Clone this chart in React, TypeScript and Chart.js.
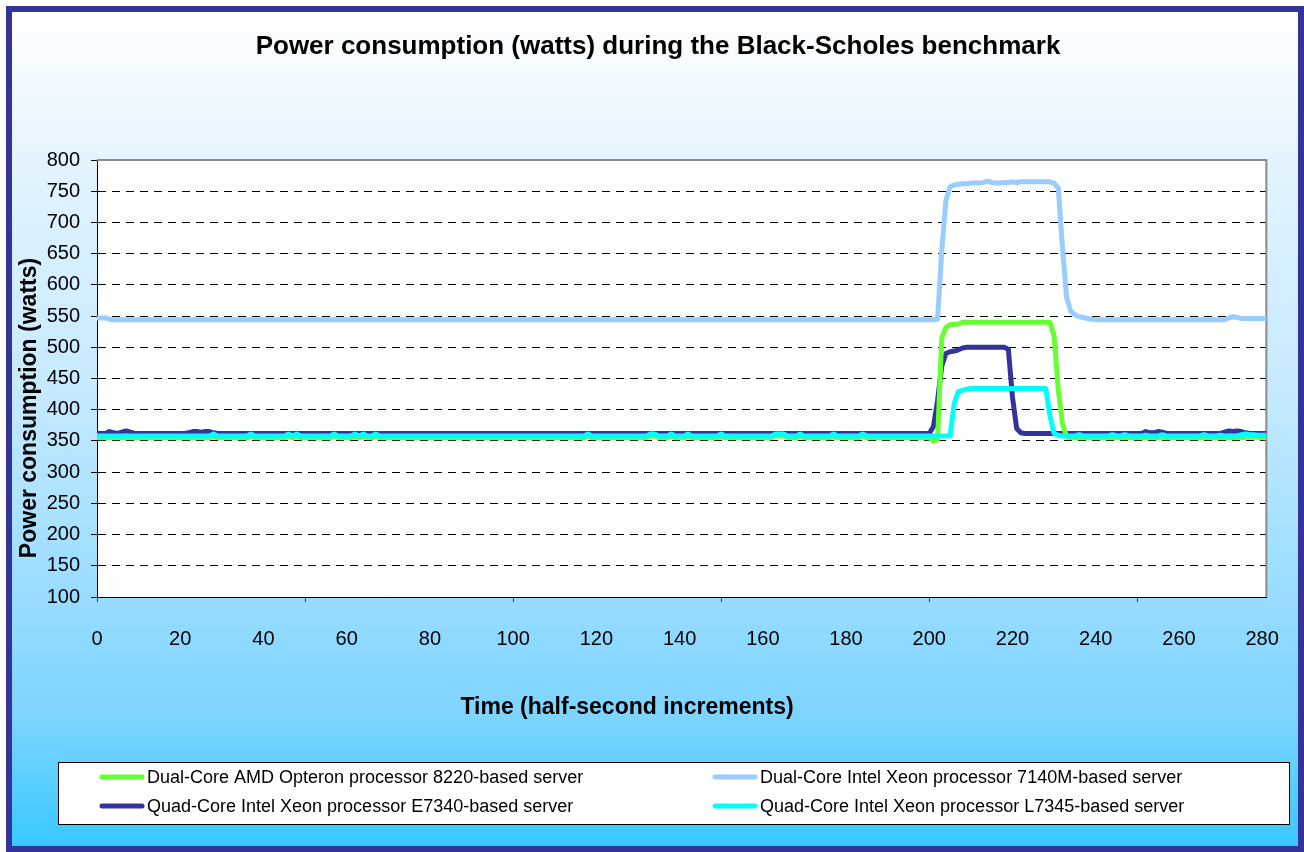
import React, { useEffect, useRef } from "react";
import { Chart, registerables } from "chart.js";

Chart.register(...registerables);

const TITLE = "Power consumption (watts) during the Black-Scholes benchmark";
const X_TITLE = "Time (half-second increments)";
const Y_TITLE = "Power consumption (watts)";

const SERIES_NAMES = [
  "Dual-Core AMD Opteron processor 8220-based server",
  "Dual-Core Intel Xeon processor 7140M-based server",
  "Quad-Core Intel Xeon processor E7340-based server",
  "Quad-Core Intel Xeon processor L7345-based server",
];

const X_LABELS = [0, 20, 40, 60, 80, 100, 120, 140, 160, 180, 200, 220, 240, 260, 280];
const X_TICK_MARKS = [0, 50, 100, 150, 200, 250];
const Y_TICKS = [100, 150, 200, 250, 300, 350, 400, 450, 500, 550, 600, 650, 700, 750, 800];
const X_MIN = 0;
const X_MAX = 281;

// Dual-Core AMD Opteron 8220 (green)
const AMD_8220 = [
  355,355,355,355,355,355,355,355,355,355,355,355,355,355,355,355,355,355,355,355,
  355,355,355,355,355,355,355,355,357,355,355,355,355,355,355,355,355,357,355,355,
  355,355,355,355,355,355,357,355,357,355,355,355,355,355,355,355,355,357,355,355,
  355,355,357,355,357,355,355,357,355,355,355,355,355,355,355,355,355,355,355,355,
  355,355,355,355,355,355,355,355,355,355,355,355,355,355,355,355,355,355,355,355,
  355,355,355,355,355,355,355,355,355,355,355,355,355,355,355,355,355,355,357,355,
  355,355,355,355,355,355,355,355,355,355,355,355,355,358,358,355,355,355,357,355,
  355,355,357,355,355,355,355,355,355,355,357,355,355,355,355,355,355,355,355,355,
  355,355,355,358,358,358,355,355,355,357,355,355,355,355,355,355,355,357,355,355,
  355,355,355,355,357,355,355,355,355,355,355,355,355,355,355,355,355,355,355,355,
  355,350,352,515,532,536,537,537,540,540,540,540,540,540,540,540,540,540,540,540,
  540,540,540,540,540,540,540,540,540,540,518,432,378,357,355,355,355,355,355,355,
  355,355,355,355,355,355,355,355,355,355,355,355,355,355,355,355,355,355,355,355,
  355,355,355,355,355,355,355,355,355,355,355,355,355,355,355,355,356,356,356,356,
  355,355,
];

// Dual-Core Intel Xeon 7140M (light blue)
const XEON_7140M = [
  547,547,547,545,544,544,544,544,544,544,544,544,544,544,544,544,544,544,544,544,
  544,544,544,544,544,544,544,544,544,544,544,544,544,544,544,544,544,544,544,544,
  544,544,544,544,544,544,544,544,544,544,544,544,544,544,544,544,544,544,544,544,
  544,544,544,544,544,544,544,544,544,544,544,544,544,544,544,544,544,544,544,544,
  544,544,544,544,544,544,544,544,544,544,544,544,544,544,544,544,544,544,544,544,
  544,544,544,544,544,544,544,544,544,544,544,544,544,544,544,544,544,544,544,544,
  544,544,544,544,544,544,544,544,544,544,544,544,544,544,544,544,544,544,544,544,
  544,544,544,544,544,544,544,544,544,544,544,544,544,544,544,544,544,544,544,544,
  544,544,544,544,544,544,544,544,544,544,544,544,544,544,544,544,544,544,544,544,
  544,544,544,544,544,544,544,544,544,544,544,544,544,544,544,544,544,544,544,544,
  544,544,545,655,735,757,760,761,762,762,763,763,763,764,766,764,763,763,764,764,
  765,764,765,765,765,765,765,765,765,765,763,755,660,580,558,552,549,548,546,545,
  544,544,544,544,544,544,544,544,544,544,544,544,544,544,544,544,544,544,544,544,
  544,544,544,544,544,544,544,544,544,544,544,544,547,549,548,546,546,546,546,546,
  546,546,
];

// Quad-Core Intel Xeon E7340 (navy)
const XEON_E7340 = [
  362,362,362,365,363,362,364,366,364,362,362,362,362,362,362,362,362,362,362,362,
  362,362,363,365,365,364,365,365,363,362,362,362,362,362,362,362,362,362,362,362,
  362,362,362,362,362,362,362,362,362,362,362,362,362,362,362,362,362,362,362,362,
  362,362,362,362,362,362,362,362,362,362,362,362,362,362,362,362,362,362,362,362,
  362,362,362,362,362,362,362,362,362,362,362,362,362,362,362,362,362,362,362,362,
  362,362,362,362,362,362,362,362,362,362,362,362,362,362,362,362,362,362,362,362,
  362,362,362,362,362,362,362,362,362,362,362,362,362,362,362,362,362,362,362,362,
  362,362,362,362,362,362,362,362,362,362,362,362,362,362,362,362,362,362,362,362,
  362,362,362,362,362,362,362,362,362,362,362,362,362,362,362,362,362,362,362,362,
  362,362,362,362,362,362,362,362,362,362,362,362,362,362,362,362,362,362,362,362,
  362,373,415,470,490,493,494,496,499,500,500,500,500,500,500,500,500,500,500,497,
  420,370,363,362,362,362,362,362,362,362,362,362,362,362,362,362,362,362,362,362,
  362,362,362,362,362,362,362,362,362,362,362,362,365,363,363,365,364,362,362,362,
  362,362,362,362,362,362,362,362,362,362,362,364,366,365,366,365,363,362,362,362,
  362,362,
];

// Quad-Core Intel Xeon L7345 (cyan)
const XEON_L7345 = [
  358,358,358,358,358,358,358,358,358,358,358,358,358,358,358,358,358,358,358,358,
  358,358,358,358,358,358,358,358,361,358,358,358,358,358,358,358,358,361,358,358,
  358,358,358,358,358,358,361,358,361,358,358,358,358,358,358,358,358,361,358,358,
  358,358,361,358,361,358,358,361,358,358,358,358,358,358,358,358,358,358,358,358,
  358,358,358,358,358,358,358,358,358,358,358,358,358,358,358,358,358,358,358,358,
  358,358,358,358,358,358,358,358,358,358,358,358,358,358,358,358,358,358,361,358,
  358,358,358,358,358,358,358,358,358,358,358,358,358,361,361,358,358,358,361,358,
  358,358,361,358,358,358,358,358,358,358,361,358,358,358,358,358,358,358,358,358,
  358,358,358,361,361,361,358,358,358,361,358,358,358,358,358,358,358,361,358,358,
  358,358,358,358,361,358,358,358,358,358,358,358,358,358,358,358,358,358,358,358,
  358,358,358,358,358,358,410,429,431,433,434,434,434,434,434,434,434,434,434,434,
  434,434,434,434,434,434,434,434,434,390,362,359,358,358,358,358,360,358,358,358,
  358,358,358,358,360,358,358,360,358,358,358,358,359,358,358,358,360,358,358,358,
  358,358,358,358,358,358,360,358,358,358,359,358,358,358,358,360,361,360,360,359,
  359,359,
];

const SERIES_VALUES = [AMD_8220, XEON_7140M, XEON_E7340, XEON_L7345];
const SERIES_COLORS = ["#66FF33", "#99CCFF", "#333399", "#00FFFF"];
const SERIES_ORDER = [1, 3, 2, 0]; // lower order is drawn on top

const W = 1304;
const H = 852;
const FONT = '"Liberation Sans", Arial, Helvetica, sans-serif';

const framePlugin = {
  id: "frame",
  beforeDraw(chart: any) {
    const { ctx, chartArea: a } = chart;
    ctx.save();
    ctx.fillStyle = "#ffffff";
    ctx.fillRect(0, 0, W, H);
    const g = ctx.createLinearGradient(0, 12, 0, 846);
    g.addColorStop(0, "#ffffff");
    g.addColorStop(0.177, "#e4f4ff");
    g.addColorStop(0.465, "#c4e9ff");
    g.addColorStop(0.705, "#98dcff");
    g.addColorStop(0.85, "#7cd4ff");
    g.addColorStop(1, "#38c8ff");
    ctx.fillStyle = g;
    ctx.fillRect(9, 9, W - 12, H - 12);
    ctx.lineWidth = 6;
    ctx.strokeStyle = "#333399";
    ctx.strokeRect(9, 9, W - 12, H - 12);
    ctx.fillStyle = "#ffffff";
    ctx.fillRect(a.left, a.top, a.right - a.left, a.bottom - a.top);
    ctx.restore();
  },
  beforeDatasetsDraw(chart: any) {
    const { ctx, chartArea: a } = chart;
    ctx.save();
    ctx.strokeStyle = "#8a8a8a";
    ctx.lineWidth = 2;
    ctx.beginPath();
    ctx.moveTo(a.left, a.top);
    ctx.lineTo(a.right, a.top);
    ctx.lineTo(a.right, a.bottom);
    ctx.stroke();
    ctx.restore();
  },
  afterDraw(chart: any) {
    const { ctx } = chart;
    ctx.save();
    ctx.fillStyle = "#000000";
    // main title
    ctx.font = `bold 26px ${FONT}`;
    ctx.textAlign = "center";
    ctx.textBaseline = "alphabetic";
    ctx.fillText(TITLE, 658, 54);
    // x title
    ctx.font = `bold 23px ${FONT}`;
    ctx.fillText(X_TITLE, 627, 714);
    // y title
    ctx.save();
    ctx.translate(36, 408);
    ctx.rotate(-Math.PI / 2);
    ctx.fillText(Y_TITLE, 0, 0);
    ctx.restore();

    // legend box
    ctx.fillStyle = "#ffffff";
    ctx.fillRect(58.5, 762.5, 1231, 62);
    ctx.strokeStyle = "#000000";
    ctx.lineWidth = 1;
    ctx.strokeRect(58.5, 762.5, 1231, 62);
    const cols = [102, 715];
    const rows = [777, 806];
    ctx.font = `18px ${FONT}`;
    ctx.textAlign = "left";
    ctx.textBaseline = "middle";
    SERIES_NAMES.forEach((name, i) => {
      const cx = cols[i % 2];
      const cy = rows[Math.floor(i / 2)];
      ctx.strokeStyle = SERIES_COLORS[i];
      ctx.lineWidth = 5;
      ctx.lineCap = "round";
      ctx.beginPath();
      ctx.moveTo(cx, cy);
      ctx.lineTo(cx + 40, cy);
      ctx.stroke();
      ctx.fillStyle = "#000000";
      ctx.fillText(name, cx + 45, cy + 1);
    });
    ctx.restore();
  },
};

export default function App() {
  const ref = useRef<HTMLCanvasElement | null>(null);

  useEffect(() => {
    if (!ref.current) return;
    const datasets = SERIES_NAMES.map((name, i) => ({
      label: name,
      data: SERIES_VALUES[i].map((v, k) => ({ x: k, y: v })),
      borderColor: SERIES_COLORS[i],
      backgroundColor: SERIES_COLORS[i],
      borderWidth: 5,
      pointRadius: 0,
      pointHoverRadius: 0,
      tension: 0,
      borderJoinStyle: "round" as const,
      borderCapStyle: "round" as const,
      fill: false,
      order: SERIES_ORDER[i],
    }));

    const chart = new Chart(ref.current, {
      type: "line",
      data: { datasets },
      options: {
        animation: false,
        responsive: false,
        devicePixelRatio: 1,
        events: [],
        layout: { padding: { left: 0, right: 37, top: 160, bottom: 195 } },
        plugins: {
          legend: { display: false },
          title: { display: false },
          tooltip: { enabled: false },
        },
        scales: {
          x: {
            type: "linear",
            min: X_MIN,
            max: X_MAX,
            afterFit: (s: any) => {
              s.height = 60;
            },
            afterBuildTicks: (s: any) => {
              const vals = Array.from(new Set([...X_LABELS, ...X_TICK_MARKS])).sort((a, b) => a - b);
              s.ticks = vals.map((v) => ({ value: v }));
            },
            ticks: {
              autoSkip: false,
              maxRotation: 0,
              minRotation: 0,
              padding: 25,
              color: "#000000",
              font: { family: FONT, size: 20 },
              callback: (v: any) => (X_LABELS.includes(Number(v)) ? String(v) : ""),
            },
            grid: {
              drawOnChartArea: false,
              drawTicks: true,
              tickLength: 5,
              tickWidth: 1,
              tickColor: (c: any) =>
                c.tick && X_TICK_MARKS.includes(c.tick.value) ? "#404040" : "rgba(0,0,0,0)",
            },
            border: { display: true, color: "#000000", width: 1 },
          },
          y: {
            type: "linear",
            min: 100,
            max: 800,
            afterFit: (s: any) => {
              s.width = 97;
            },
            afterBuildTicks: (s: any) => {
              s.ticks = Y_TICKS.map((v) => ({ value: v }));
            },
            ticks: {
              padding: 11,
              color: "#000000",
              font: { family: FONT, size: 20 },
              callback: (v: any) => String(v),
            },
            grid: {
              drawOnChartArea: true,
              drawTicks: true,
              tickLength: 6,
              tickWidth: 1,
              tickColor: "#000000",
              tickBorderDash: [],
              lineWidth: 1,
              color: (c: any) =>
                c.tick && (c.tick.value === 100 || c.tick.value === 800) ? "rgba(0,0,0,0)" : "#000000",
            },
            border: { display: true, color: "#000000", width: 1, dash: [8, 6] },
          },
        },
      },
      plugins: [framePlugin],
    });
    return () => chart.destroy();
  }, []);

  return (
    <div style={{ position: "absolute", left: 0, top: 0, width: W, height: H }}>
      <canvas ref={ref} width={W} height={H} style={{ display: "block", width: W, height: H }} />
    </div>
  );
}
